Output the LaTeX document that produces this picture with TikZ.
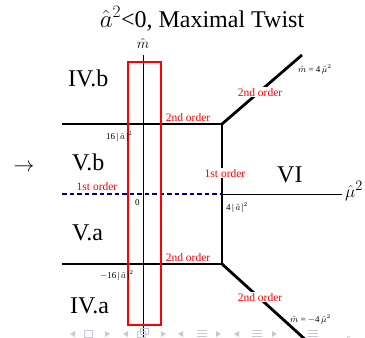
\documentclass[tikz,border=0pt]{standalone}
\usepackage{fontspec}
\setmainfont{Liberation Serif}
\begin{document}
\begin{tikzpicture}[x=1pt,y=-1pt,
  thickline/.style={line width=2.8pt,black},
  axisline/.style={line width=0.8pt,black},
  redbox/.style={line width=2.6pt,red},
  dashblue/.style={line width=2.2pt,blue!50!black,dash pattern=on 4.5pt off 3pt},
  region/.style={font=\fontsize{24}{26}\selectfont,anchor=base west,inner sep=0pt},
  order/.style={font=\fontsize{11.5}{13}\selectfont,text=red,anchor=base,fill=white,inner sep=1pt},
  tick/.style={font=\fontsize{9}{10}\selectfont,anchor=base west,inner sep=0pt},
  nav/.style={fill=blue!25!gray!35,draw=none}]
\useasboundingbox (0,0) rectangle (365,338);
% coordinates
\coordinate (tl) at (62,124);
\coordinate (tr) at (222,124);
\coordinate (bl) at (62,264);
\coordinate (br) at (222,264);
\coordinate (al) at (62,194);
\coordinate (am) at (222,194);
\coordinate (ar) at (342,194);
\coordinate (du) at (302,55);
\coordinate (dd) at (308,342);
\coordinate (vt) at (143,55);
\coordinate (vb) at (143,338);
% title
\node[anchor=base,inner sep=0pt,font=\fontsize{24}{26}\selectfont] (title) at (202,27) {$\hat{a}^2$<0, Maximal Twist};
% axes
\draw[axisline] (vt) -- (vb);
\draw[axisline] (am) -- (ar);
\node[anchor=base,inner sep=0pt,font=\fontsize{15}{16}\selectfont] (mlab) at (143,48) {$\hat{m}$};
\node[anchor=base west,inner sep=0pt,font=\fontsize{19}{20}\selectfont] (mulab) at (345,197) {$\hat{\mu}^2$};
% thick lines
\draw[thickline] (tl) -- (tr) -- (br) -- (bl);
\draw[thickline] (tr) -- (du);
\draw[thickline] (br) -- (dd);
\draw[dashblue] (al) -- (am);
% red box
\draw[redbox] (128,62) rectangle (161,325);
% region labels
\node[region] (ivb) at (68,86) {IV.b};
\node[region] (vbr) at (72,170) {V.b};
\node[region] (var) at (72,240) {V.a};
\node[region] (iva) at (70,313) {IV.a};
\node[region] (vi) at (277,182) {VI};
\node[anchor=base,inner sep=0pt,font=\fontsize{21}{24}\selectfont] (arr) at (24,171) {$\rightarrow$};
% order labels
\node[order] (o2t) at (188,121) {2nd order};
\node[order] (o2b) at (188,261) {2nd order};
\node[order] (o1v) at (225,177) {1st order};
\node[order,fill=none] (o1h) at (97,190) {1st order};
\node[order] (o2du) at (260,96) {2nd order};
\node[order] (o2dd) at (260,301) {2nd order};
% tick labels
\node[tick] (t16) at (106,139) {16\,|\,$\hat{a}$\,|$^2$};
\node[tick] (t0) at (135,205) {0};
\node[tick] (t4) at (226,210) {4\,|\,$\hat{a}$\,|$^2$};
\node[tick] (tm16) at (100,278) {$-$16\,|\,$\hat{a}$\,|$^2$};
\node[tick] (eq1) at (298,72) {$\hat{m}$ = 4\,$\hat{\mu}^2$};
\node[tick] (eq2) at (290,322) {$\hat{m}$ = $-$4\,$\hat{\mu}^2$};
% beamer navigation symbols
\fill[nav] (75,331) -- (70,334) -- (75,337) -- cycle;
\draw[blue!25!gray!35,line width=0.8pt] (84,330) rectangle (92,337);
\fill[nav] (105,331) -- (110,334) -- (105,337) -- cycle;
\fill[nav] (128,331) -- (123,334) -- (128,337) -- cycle;
\draw[blue!25!gray!35,line width=0.8pt] (137,331) rectangle (145,337) (140,328) rectangle (148,334);
\fill[nav] (161,331) -- (166,334) -- (161,337) -- cycle;
\fill[nav] (183,331) -- (178,334) -- (183,337) -- cycle;
\draw[blue!25!gray!35,line width=0.8pt] (197,330) -- (207,330) (197,333) -- (207,333) (197,336) -- (207,336);
\fill[nav] (216,331) -- (221,334) -- (216,337) -- cycle;
\fill[nav] (239,331) -- (234,334) -- (239,337) -- cycle;
\draw[blue!25!gray!35,line width=0.8pt] (252,330) -- (262,330) (252,333) -- (262,333) (252,336) -- (262,336);
\fill[nav] (272,331) -- (277,334) -- (272,337) -- cycle;
\draw[blue!25!gray!35,line width=0.8pt] (308,330) -- (318,330) (308,333) -- (318,333) (308,336) -- (318,336);
\draw[blue!25!gray!35,line width=0.8pt] (350,336) arc (270:60:3.5);
\end{tikzpicture}
\end{document}
